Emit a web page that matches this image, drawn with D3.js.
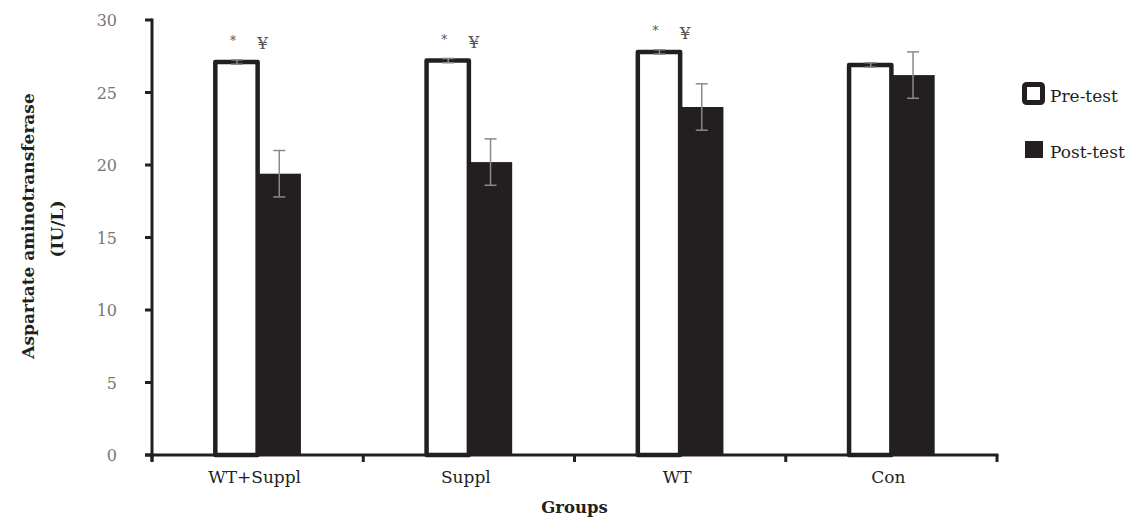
<!DOCTYPE html>
<html>
<head>
<meta charset="utf-8">
<script src="https://cdn.jsdelivr.net/npm/d3@7"></script>
<style>
  body { margin: 0; background: #fff; }
  svg { display: block; font-family: "DejaVu Serif", "Liberation Serif", serif; }
</style>
</head>
<body>
<svg id="chart" width="1129" height="518"></svg>
<script>
// data
const groups = ["WT+Suppl", "Suppl", "WT", "Con"];
const preTest = [27.1, 27.2, 27.8, 26.9];
const preErr = [0.15, 0.15, 0.15, 0.15];
const postTest = [19.4, 20.2, 24.0, 26.2];
const postErr = [1.6, 1.6, 1.6, 1.6];
const markStar = ["*", "*", "*", ""];
const markYen = ["¥", "¥", "¥", ""];
const yTicks = [0, 5, 10, 15, 20, 25, 30];

const svg = d3.select('#chart');
const mLeft = 152, mRight = 997, mTop = 20, mBottom = 455;
const ink = '#231f20';

const x = d3.scaleBand().domain(groups).range([mLeft, mRight]);
const y = d3.scaleLinear().domain([0, 30]).range([mBottom, mTop]);
const barW = x.bandwidth() * 0.205;

// bars
const g = svg.append('g');
groups.forEach((grp, i) => {
    const c = x(grp) + x.bandwidth() / 2;
    // post-test (filled)
    g.append('rect')
        .attr('x', c)
        .attr('y', y(postTest[i]))
        .attr('width', barW)
        .attr('height', y(0) - y(postTest[i]))
        .attr('fill', ink);
    // pre-test (outlined)
    g.append('rect')
        .attr('x', c - barW + 1)
        .attr('y', y(preTest[i]))
        .attr('width', barW - 1)
        .attr('height', y(0) - y(preTest[i]))
        .attr('fill', '#fff')
        .attr('stroke', ink)
        .attr('stroke-width', 4.5)
        .attr('stroke-linejoin', 'round');

    // error bars
    const eb = (cx, v, e) => {
        g.append('line').attr('x1', cx).attr('x2', cx)
            .attr('y1', y(v + e)).attr('y2', y(v - e))
            .attr('stroke', '#8a8a8a').attr('stroke-width', 1.5);
        [v + e, v - e].forEach(t => {
            g.append('line').attr('x1', cx - 6).attr('x2', cx + 6)
                .attr('y1', y(t)).attr('y2', y(t))
                .attr('stroke', '#8a8a8a').attr('stroke-width', 1.5);
        });
    };
    eb(c - barW / 2 + 1, preTest[i], preErr[i]);
    eb(c + barW / 2, postTest[i], postErr[i]);

    // significance marks
    g.append('text').attr('x', c - barW / 2 - 3).attr('y', y(preTest[i]) - 17)
        .attr('text-anchor', 'middle').attr('font-size', 12).attr('fill', '#555')
        .text(markStar[i]);
    g.append('text').attr('x', c + 5).attr('y', y(preTest[i]) - 13)
        .attr('text-anchor', 'middle').attr('font-size', 17).attr('fill', '#555')
        .text(markYen[i]);
});

// y axis
const yAxis = svg.append('g');
yAxis.append('line').attr('x1', mLeft).attr('x2', mLeft).attr('y1', mTop - 1.5).attr('y2', mBottom + 6)
    .attr('stroke', ink).attr('stroke-width', 3);
yTicks.forEach(t => {
    yAxis.append('line').attr('x1', mLeft - 7).attr('x2', mLeft).attr('y1', y(t)).attr('y2', y(t))
        .attr('stroke', ink).attr('stroke-width', 3);
    yAxis.append('text').attr('x', mLeft - 35).attr('y', y(t) + 6)
        .attr('text-anchor', 'end').attr('font-size', 16).attr('fill', '#777')
        .text(t);
});

// x axis
const xAxis = svg.append('g');
xAxis.append('line').attr('x1', mLeft - 7).attr('x2', mRight + 1.5).attr('y1', mBottom).attr('y2', mBottom)
    .attr('stroke', ink).attr('stroke-width', 3);
[...groups.map(d => x(d)), mRight].forEach(px => {
    xAxis.append('line').attr('x1', px).attr('x2', px).attr('y1', mBottom).attr('y2', mBottom + 7)
        .attr('stroke', ink).attr('stroke-width', 3);
});
groups.forEach(grp => {
    xAxis.append('text').attr('x', x(grp) + x.bandwidth() / 2 - 3).attr('y', 483)
        .attr('text-anchor', 'middle').attr('font-size', 17).attr('fill', ink)
        .text(grp);
});

// axis titles
svg.append('text').attr('x', (mLeft + mRight) / 2).attr('y', 513)
    .attr('text-anchor', 'middle').attr('font-size', 16.5).attr('font-weight', 'bold').attr('fill', ink)
    .text('Groups');
svg.append('text').attr('transform', 'translate(34,226) rotate(-90)')
    .attr('text-anchor', 'middle').attr('font-size', 17).attr('font-weight', 'bold').attr('fill', ink)
    .text('Aspartate aminotransferase');
svg.append('text').attr('transform', 'translate(63,229) rotate(-90)')
    .attr('text-anchor', 'middle').attr('font-size', 17).attr('font-weight', 'bold').attr('fill', ink)
    .text('(IU/L)');

// legend
const lg = svg.append('g');
lg.append('rect').attr('x', 1024.5).attr('y', 84.5).attr('width', 18).attr('height', 18)
    .attr('fill', '#fff').attr('stroke', ink).attr('stroke-width', 5).attr('rx', 2);
lg.append('text').attr('x', 1050).attr('y', 102).attr('font-size', 17).attr('fill', ink).text('Pre-test');
lg.append('rect').attr('x', 1025).attr('y', 141).attr('width', 18).attr('height', 17).attr('fill', ink);
lg.append('text').attr('x', 1050).attr('y', 158).attr('font-size', 17).attr('fill', ink).text('Post-test');
</script>
</body>
</html>
